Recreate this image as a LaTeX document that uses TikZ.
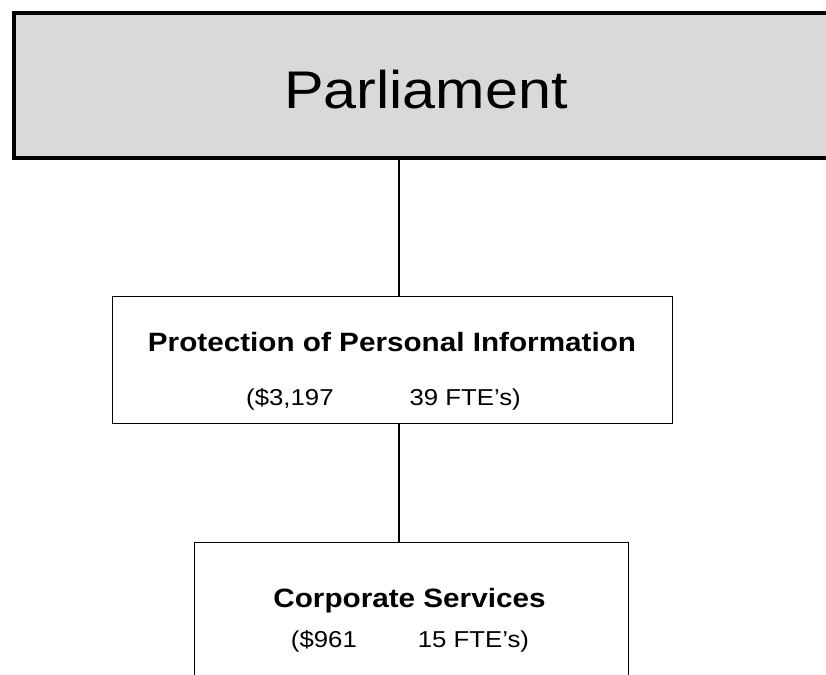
\documentclass[tikz,border=0pt]{standalone}
\usepackage{fontspec}
\setmainfont{Liberation Sans}[FakeStretch=1.12]
\usetikzlibrary{positioning,calc}
\definecolor{parlgray}{RGB}{217,217,217}
\tikzset{
unitbox/.style args = {#1/#2}{
            draw, line width=1.3pt, fill=white,
            minimum width=#1, minimum height=#2,
            inner sep=0pt, anchor=north west},
unitname/.style = {anchor=base, font=\fontsize{26.5}{30}\selectfont\bfseries},
unitcost/.style = {anchor=base, font=\fontsize{23}{26}\selectfont},
link/.style = {line width=2pt}
}

\begin{document}
\begin{tikzpicture}[x=1pt,y=-1pt]
  \useasboundingbox (0,0) rectangle (826,674);
  % top box, runs off the right edge
  \node[draw, line width=4pt, fill=parlgray, minimum width=828pt,
        minimum height=144pt, inner sep=0pt, anchor=north west]
        (parl) at (11.5,11.5) {};
  \node[anchor=base, font=\fontsize{53}{60}\selectfont] (parltext)
        at (426,108) {Parliament};

  % program box
  \node[unitbox=560pt/127pt] (ppi) at (112,296) {};
  \node[unitname] (ppiname) at (392,351) {Protection of Personal Information};
  \node[unitcost] (ppicost) at (383.5,405) {(\$3,197\hspace{76pt}39 FTE’s)};

  % corporate box, runs off the bottom
  \node[unitbox=434pt/160pt] (corp) at (194,542) {};
  \node[unitname] (corpname) at (409.5,607.5) {Corporate Services};
  \node[unitcost] (corpcost) at (410,647) {(\$961\hspace{61pt}15 FTE’s)};

  \coordinate (trunk) at (399,0);
  \draw[link] (parl.south -| trunk) -- (ppi.north -| trunk);
  \draw[link] (ppi.south -| trunk) -- (corp.north -| trunk);
\end{tikzpicture}
\end{document}
